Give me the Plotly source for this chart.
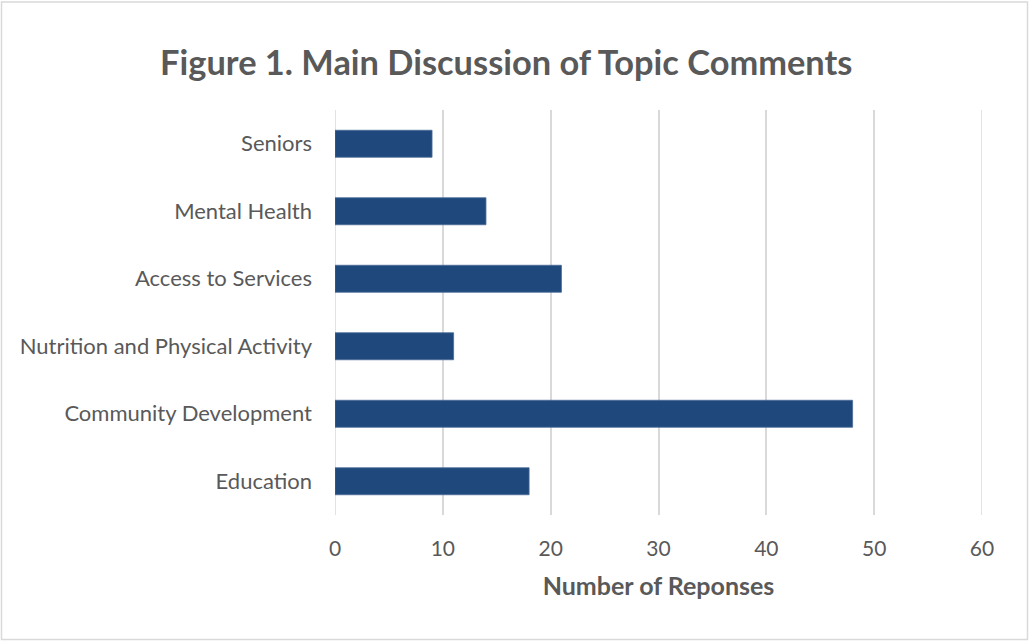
import plotly.graph_objects as go

# Topic categories (bottom to top as drawn) and response counts
categories = [
    "Education",
    "Community Development",
    "Nutrition and Physical Activity",
    "Access to Services",
    "Mental Health",
    "Seniors",
]
responses = [18, 48, 11, 21, 14, 9]
x_ticks = [0, 10, 20, 30, 40, 50, 60]

W, H = 1029, 641
ML, MR, MT, MB = 335, 47, 110, 126
TEXT = "#595959"
GRID = "#D9D9D9"
FONT = "Lato, Calibri, sans-serif"

fig = go.Figure(
    go.Bar(
        x=responses,
        y=categories,
        orientation="h",
        marker=dict(color="#1F497D", line=dict(color="#4A6C97", width=0.8)),
        width=0.4,
    )
)

# Light outer frame around the whole chart
pw, ph = W - ML - MR, H - MT - MB
fig.add_shape(
    type="rect", xref="paper", yref="paper",
    x0=(1.5 - ML) / pw, x1=(W - 1.5 - ML) / pw,
    y0=-(H - 1.5 - MT - ph) / ph, y1=1 + (MT - 2) / ph,
    line=dict(color=GRID, width=1.5), layer="below",
)

# Plotly drops grid lines sitting on the range ends; draw those two explicitly
for xv in (x_ticks[0], x_ticks[-1]):
    fig.add_shape(
        type="line", xref="x", yref="paper", x0=xv, x1=xv, y0=0, y1=1,
        line=dict(color=GRID, width=1.5), layer="below",
    )

fig.update_layout(
    width=W, height=H,
    margin=dict(l=ML, r=MR, t=MT, b=MB),
    paper_bgcolor="white", plot_bgcolor="white",
    showlegend=False,
    font=dict(family=FONT, color=TEXT, size=20),
    title=dict(
        text="<b>Figure 1. Main Discussion of Topic Comments</b>",
        x=0.492, xanchor="center", y=1 - 63 / H, yanchor="middle",
        font=dict(size=34.4, color=TEXT, family=FONT),
    ),
    xaxis=dict(
        range=[x_ticks[0], x_ticks[-1]], tickvals=x_ticks, showgrid=True,
        gridcolor=GRID, gridwidth=1.5, zeroline=False,
        showline=False, ticks="", ticklabelstandoff=19,
        tickfont=dict(size=21, color=TEXT),
        title=dict(text="<b>Number of Reponses</b>", standoff=18,
                   font=dict(size=25, color=TEXT)),
        fixedrange=True,
    ),
    yaxis=dict(
        showgrid=False, zeroline=False, showline=False, ticks="",
        ticklabelstandoff=22, tickfont=dict(size=22, color=TEXT),
        categoryorder="array", categoryarray=categories,
        range=[-0.5, 5.5],
    ),
)

fig.write_html("out.html")
